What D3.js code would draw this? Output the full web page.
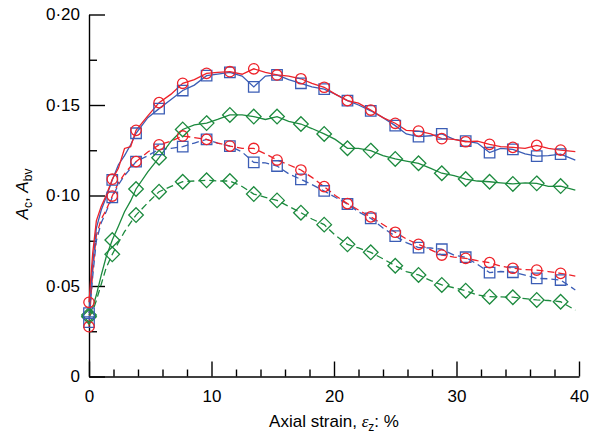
<!DOCTYPE html>
<html>
<head>
<meta charset="utf-8">
<script src="https://d3js.org/d3.v7.min.js"></script>
<style>
    body { margin: 0; background: #fff; }
    svg { font-family: "Liberation Sans", Arial, sans-serif; }
    .axis path, .axis line { stroke: #000; stroke-width: 1.4; }
    .axis text { font-size: 17px; fill: #000; }
</style>
</head>
<body>
<div id="chart"></div>
<script>
// strain (%) at which line values were read
const strain = [0, 0.3, 0.6, 1.0, 1.4, 1.9, 2.4, 2.9, 3.4, 3.84, 4.8, 5.72, 6.7, 7.65, 8.6, 9.6, 10.5, 11.5, 12.5, 13.45,
    14.4, 15.35, 16.3, 17.3, 18.2, 19.2, 20.1, 21.1, 22.0, 23.0, 24.0, 25.0, 25.9, 26.9, 27.9, 28.8, 29.8, 30.75,
    31.7, 32.7, 33.6, 34.6, 35.6, 36.55, 37.5, 38.5, 39.7];
// strains where a symbol is drawn
const markerStrain = [0, 1.9, 3.84, 5.72, 7.65, 9.6, 11.5, 13.45, 15.35, 17.3, 19.2, 21.1, 23.0, 25.0, 26.9, 28.8,
    30.75, 32.7, 34.6, 36.55, 38.5];

const redSolid = [0.041, 0.068, 0.086, 0.094, 0.100, 0.109, 0.115, 0.126, 0.127, 0.136, 0.144, 0.1513, 0.156, 0.162,
    0.164, 0.1675, 0.168, 0.1684, 0.167, 0.170, 0.168, 0.1666, 0.166, 0.1645, 0.162, 0.1598, 0.156, 0.1524, 0.151,
    0.1472, 0.143, 0.1399, 0.136, 0.1356, 0.134, 0.1314, 0.131, 0.1297, 0.130, 0.1283, 0.127, 0.1266, 0.126, 0.1277,
    0.126, 0.1251, 0.1242];
const blueSolid = [0.035, 0.062, 0.082, 0.092, 0.099, 0.1086, 0.117, 0.122, 0.128, 0.1344, 0.143, 0.148, 0.153, 0.158,
    0.161, 0.1662, 0.167, 0.168, 0.166, 0.160, 0.166, 0.1666, 0.164, 0.162, 0.160, 0.1588, 0.156, 0.1524, 0.150,
    0.1468, 0.143, 0.1386, 0.134, 0.1325, 0.133, 0.134, 0.131, 0.1301, 0.129, 0.1237, 0.126, 0.1255, 0.123, 0.1218,
    0.122, 0.1229, 0.1196];
const greenSolid = [0.034, 0.038, 0.045, 0.056, 0.066, 0.0754, 0.083, 0.091, 0.097, 0.1036, 0.113, 0.1209, 0.130,
    0.1365, 0.139, 0.140, 0.142, 0.1445, 0.1445, 0.1436, 0.142, 0.1436, 0.141, 0.1395, 0.137, 0.134, 0.131, 0.1261,
    0.126, 0.1248, 0.122, 0.1202, 0.119, 0.1178, 0.115, 0.1123, 0.111, 0.1091, 0.108, 0.1076, 0.107, 0.1064, 0.107,
    0.1067, 0.105, 0.1052, 0.103];
const redDashed = [0.0275, 0.058, 0.078, 0.087, 0.092, 0.0997, 0.107, 0.112, 0.116, 0.1187, 0.124, 0.128, 0.130,
    0.1329, 0.132, 0.131, 0.129, 0.1273, 0.126, 0.126, 0.123, 0.1196, 0.117, 0.1141, 0.110, 0.1049, 0.100, 0.0955,
    0.092, 0.0882, 0.084, 0.0797, 0.076, 0.073, 0.070, 0.0671, 0.066, 0.0653, 0.064, 0.0629, 0.061, 0.0598, 0.059,
    0.0588, 0.058, 0.057, 0.0555];
const blueDashed = [0.030, 0.055, 0.075, 0.085, 0.091, 0.099, 0.106, 0.111, 0.115, 0.1187, 0.122, 0.1255, 0.126,
    0.127, 0.129, 0.131, 0.129, 0.1273, 0.124, 0.1183, 0.118, 0.1163, 0.112, 0.1089, 0.106, 0.1025, 0.099, 0.0953,
    0.091, 0.0874, 0.082, 0.0776, 0.074, 0.0712, 0.071, 0.0703, 0.067, 0.0659, 0.062, 0.0574, 0.058, 0.0576, 0.056,
    0.0542, 0.054, 0.0533, 0.0478];
const greenDashed = [0.033, 0.036, 0.042, 0.051, 0.060, 0.0675, 0.074, 0.080, 0.085, 0.0892, 0.096, 0.1021, 0.105,
    0.1076, 0.108, 0.1084, 0.108, 0.108, 0.105, 0.1008, 0.099, 0.0973, 0.094, 0.0905, 0.087, 0.0839, 0.078, 0.073,
    0.071, 0.0686, 0.065, 0.0612, 0.058, 0.0561, 0.053, 0.0506, 0.049, 0.0474, 0.045, 0.0441, 0.044, 0.0438, 0.043,
    0.0423, 0.042, 0.0413, 0.0367];

const xTicks = [0, 10, 20, 30, 40];
const yTicks = [0, 0.05, 0.10, 0.15, 0.20];
const yTickLabels = ["0", "0·05", "0·10", "0·15", "0·20"];

const red = "#ee2229", blue = "#3b5db5", green = "#1c8a3e";
const series = [
    {values: greenDashed, color: green, dash: "7,4", symbol: "diamond"},
    {values: blueDashed, color: blue, dash: "7,4", symbol: "square"},
    {values: redDashed, color: red, dash: "7,4", symbol: "circle"},
    {values: greenSolid, color: green, dash: null, symbol: "diamond"},
    {values: blueSolid, color: blue, dash: null, symbol: "square"},
    {values: redSolid, color: red, dash: null, symbol: "circle"}
];

const W = 590, H = 438;
const x = d3.scaleLinear().domain([0, 40]).range([89, 579]);
const y = d3.scaleLinear().domain([0, 0.20]).range([376.5, 14.5]);

const svg = d3.select("#chart").append("svg")
    .attr("width", W).attr("height", H);

// minor ticks
svg.append("g").attr("class", "axis")
    .attr("transform", `translate(${x(0)},0)`)
    .call(d3.axisLeft(y).tickValues(d3.range(0.025, 0.2, 0.05)).tickSize(-8).tickFormat(""))
    .call(g => g.select(".domain").remove());
svg.append("g").attr("class", "axis")
    .attr("transform", `translate(0,${y(0)})`)
    .call(d3.axisBottom(x).tickValues(d3.range(2, 40, 2).filter(v => v % 10 !== 0)).tickSize(-7).tickFormat(""))
    .call(g => g.select(".domain").remove());

// major ticks + labels
svg.append("g").attr("class", "axis")
    .attr("transform", `translate(${x(0)},0)`)
    .call(d3.axisLeft(y).tickValues(yTicks).tickSizeInner(-16).tickSizeOuter(0).tickPadding(9)
        .tickFormat((d, i) => yTickLabels[i]));
svg.append("g").attr("class", "axis")
    .attr("transform", `translate(0,${y(0)})`)
    .call(d3.axisBottom(x).tickValues(xTicks).tickSizeInner(-15).tickSizeOuter(0).tickPadding(13)
        .tickFormat(d3.format("d")));

// lines
const line = d3.line()
    .x((d, i) => x(strain[i]))
    .y(d => y(d));

series.forEach(s => {
    svg.append("path")
        .attr("d", line(s.values))
        .attr("fill", "none")
        .attr("stroke", s.color)
        .attr("stroke-width", 1.3)
        .attr("stroke-dasharray", s.dash);
});

// symbols
const symbolPath = {
    circle: d3.symbol(d3.symbolCircle, 85)(),
    square: d3.symbol(d3.symbolSquare, 110)(),
    diamond: "M0,-7.3L7.3,0L0,7.3L-7.3,0Z"
};
series.forEach(s => {
    const pts = strain.map((v, i) => [v, s.values[i]]).filter(p => markerStrain.includes(p[0]));
    svg.append("g").selectAll("path")
        .data(pts).join("path")
        .attr("transform", p => `translate(${x(p[0])},${y(p[1])})`)
        .attr("d", symbolPath[s.symbol])
        .attr("fill", "none")
        .attr("stroke", s.color)
        .attr("stroke-width", 1.3);
});

// axis titles
svg.append("text")
    .attr("x", 334).attr("y", 427)
    .attr("text-anchor", "middle")
    .attr("font-size", 17)
    .html('Axial strain, <tspan font-family="Liberation Serif" font-style="italic">ε</tspan><tspan dy="4" font-size="12">z</tspan><tspan dy="-4">: %</tspan>');

svg.append("text")
    .attr("transform", "translate(28,194) rotate(-90)")
    .attr("text-anchor", "middle")
    .attr("font-size", 17)
    .html('<tspan font-style="italic">A</tspan><tspan dy="4" font-size="12">c</tspan><tspan dy="-4">, </tspan><tspan font-style="italic">A</tspan><tspan dy="4" font-size="12">bv</tspan>');
</script>
</body>
</html>
